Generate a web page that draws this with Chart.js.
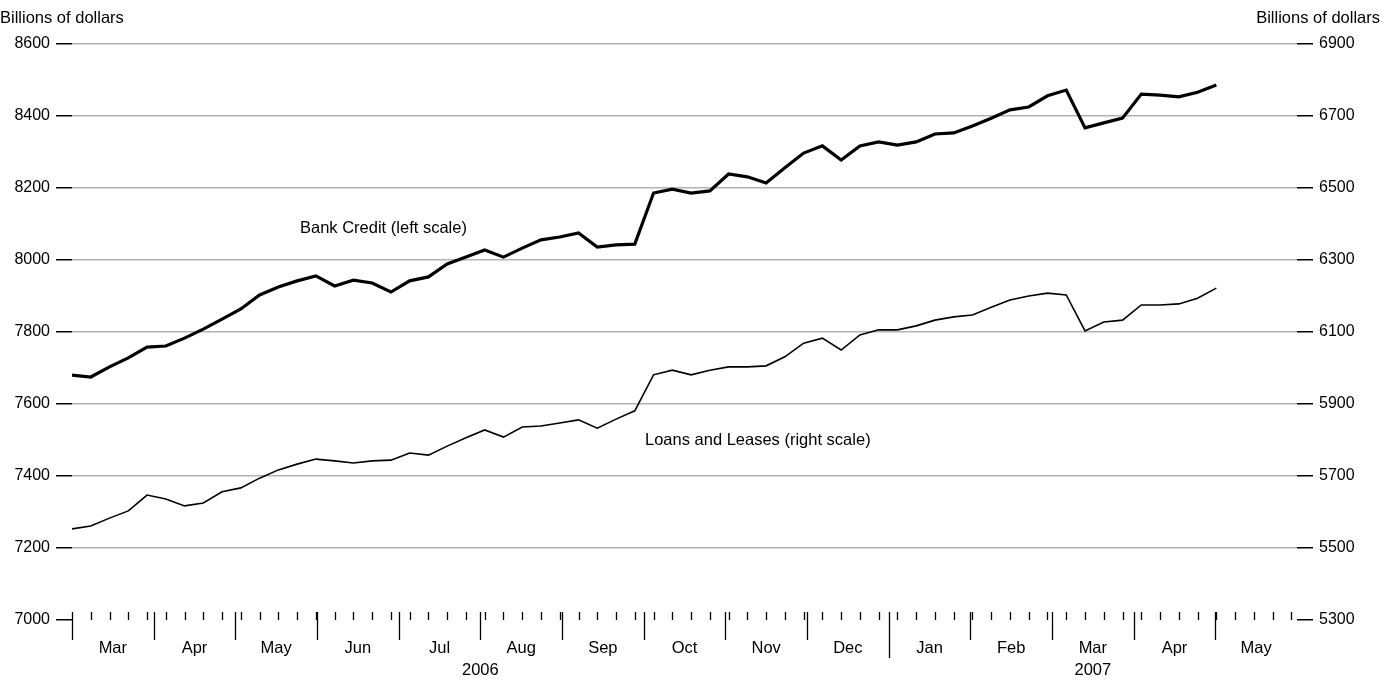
<!DOCTYPE html>
<html><head><meta charset="utf-8">
<script src="https://cdn.jsdelivr.net/npm/chart.js@4"></script>
<style>body{margin:0;background:#fff}</style>
</head><body>
<canvas id="c" width="1382" height="683"></canvas>
<script>
// weekly observations, starting at the beginning of March 2006
var bankCredit = [7680,7675,7703,7728,7758,7761,7783,7808,7836,7864,7903,7925,7942,7956,7928,7944,7936,7911,7942,7953,
  7989,8008,8028,8008,8033,8056,8064,8075,8036,8042,8044,8186,8197,8186,8192,8239,8231,8214,8256,8297,
  8317,8278,8317,8328,8319,8328,8350,8353,8372,8394,8417,8425,8456,8472,8367,8381,8394,8461,8458,8453,8466,8486];
var loansLeases = [5553,5561,5583,5603,5647,5636,5617,5625,5656,5667,5694,5717,5733,5747,5742,5736,5742,5744,5764,5758,
  5783,5806,5828,5808,5836,5839,5847,5856,5833,5858,5881,5981,5994,5981,5994,6003,6003,6006,6031,6069,
  6083,6050,6092,6106,6106,6117,6133,6142,6147,6169,6189,6200,6208,6203,6103,6128,6133,6175,6175,6178,6194,6222];
var monthLabels = ['Mar','Apr','May','Jun','Jul','Aug','Sep','Oct','Nov','Dec','Jan','Feb','Mar','Apr','May'];
var years = [{label:'2006', from:0, to:10}, {label:'2007', from:10, to:15}];

var font = 'Helvetica, "Liberation Sans", Arial, sans-serif';
var pts = function(arr){ return arr.map(function(v,i){ return {x:i, y:v}; }); };

// month boundaries in weeks (months drawn with equal width)
var totalWeeks = 65.3;
var bounds = monthLabels.map(function(m, i){ return i * totalWeeks / monthLabels.length; });
bounds.push(totalWeeks);

var decor = {
  id: 'decor',
  afterDraw: function(chart){
    var c = chart.ctx, x = chart.scales.x, a = chart.chartArea;
    var base = a.bottom;
    c.save();
    c.strokeStyle = '#000'; c.fillStyle = '#000'; c.lineWidth = 1.3;
    c.beginPath();
    for (var w = 1; w < totalWeeks; w++) {
      var px = Math.round(x.getPixelForValue(w)) + 0.5;
      c.moveTo(px, base - 8); c.lineTo(px, base);
    }
    bounds.forEach(function(b, i){
      if (i === bounds.length-1) return;
      var px = Math.round(x.getPixelForValue(b)) + 0.5;
      c.moveTo(px, base - 8); c.lineTo(px, base + (i === 10 ? 38 : 20));
    });
    c.stroke();
    c.font = '16.5px ' + font; c.textAlign = 'center'; c.textBaseline = 'middle';
    monthLabels.forEach(function(m, i){
      c.fillText(m, x.getPixelForValue((bounds[i] + bounds[i+1]) / 2), base + 28);
    });
    years.forEach(function(y){
      c.fillText(y.label, x.getPixelForValue((bounds[y.from] + bounds[y.to]) / 2), base + 50);
    });
    c.textAlign = 'left';
    c.fillText('Billions of dollars', 0, 18);
    c.fillText('Bank Credit (left scale)', 300, 228);
    c.fillText('Loans and Leases (right scale)', 645, 440);
    c.textAlign = 'right';
    c.fillText('Billions of dollars', 1380, 18);
    c.restore();
  }
};

var tickFmt = function(v){ return String(v); };

new Chart(document.getElementById('c'), {
  type: 'line',
  data: { datasets: [
    { data: pts(bankCredit), yAxisID: 'y', borderColor: '#000', borderWidth: 3.2, pointRadius: 0, tension: 0 },
    { data: pts(loansLeases), yAxisID: 'y1', borderColor: '#000', borderWidth: 1.6, pointRadius: 0, tension: 0 }
  ]},
  options: {
    responsive: false, animation: false,
    layout: { padding: { top: 44, bottom: 63, left: 0, right: 0 } },
    plugins: { legend: { display: false }, tooltip: { enabled: false } },
    scales: {
      x: { type: 'linear', min: 0, max: totalWeeks, display: false },
      y: { position: 'left', min: 7000, max: 8600,
        ticks: { stepSize: 200, color: '#000', font: { size: 16, family: font }, padding: 6, callback: tickFmt },
        grid: { color: function(ctx){ return ctx.tick.value === 7000 ? 'rgba(0,0,0,0)' : '#b3b3b3'; },
                lineWidth: 1.5, tickColor: '#000', tickLength: 16 },
        border: { display: false }, afterFit: function(s){ s.width = 72; } },
      y1: { position: 'right', min: 5300, max: 6900,
        ticks: { stepSize: 200, color: '#000', font: { size: 16, family: font }, padding: 6, callback: tickFmt },
        grid: { drawOnChartArea: false, tickColor: '#000', tickLength: 16, lineWidth: 1.5 },
        border: { display: false }, afterFit: function(s){ s.width = 85; } }
    }
  },
  plugins: [decor]
});
</script>
</body></html>
